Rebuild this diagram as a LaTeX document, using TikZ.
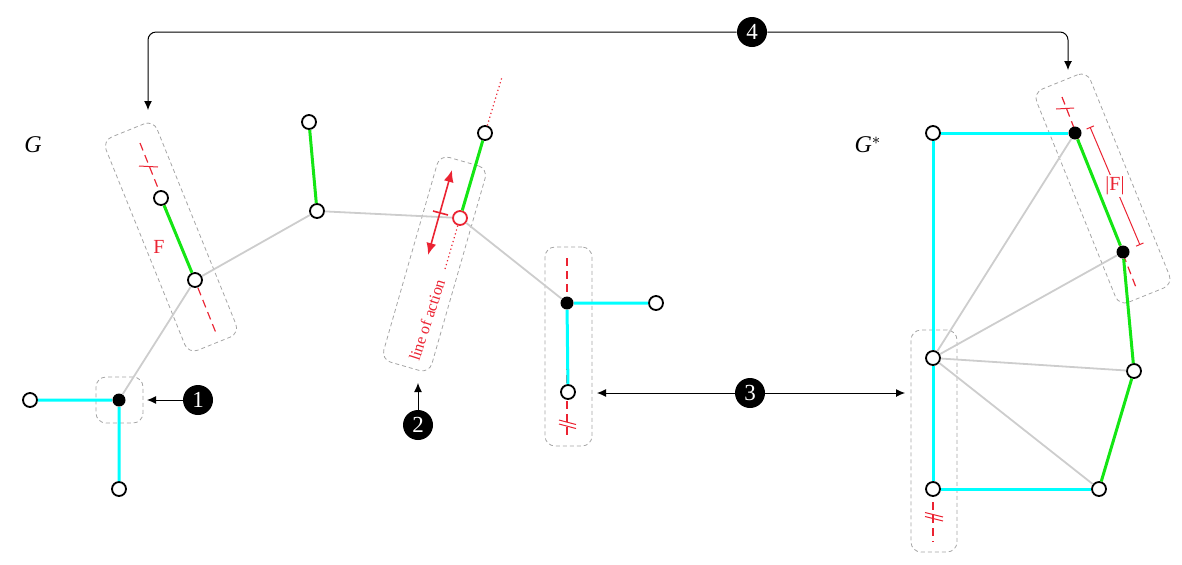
\documentclass[tikz,border=0pt]{standalone}
\usepackage{fontspec}
\setmainfont{Liberation Serif}
\usetikzlibrary{arrows.meta}
\definecolor{EdgeGreen}{RGB}{20,230,20}
\definecolor{EdgeCyan}{RGB}{0,255,255}
\definecolor{EdgeGray}{RGB}{205,205,205}
\definecolor{BoxGray}{RGB}{165,165,165}
\definecolor{ForceRed}{RGB}{235,35,50}

\begin{document}
\begin{tikzpicture}[x=0.5pt,y=-0.5pt,>={Latex[length=4.5pt,width=4pt]},
    vopen/.style={circle,draw=black,fill=white,line width=0.9pt,inner sep=0pt,minimum size=7pt},
    vfull/.style={circle,fill=black,inner sep=0pt,minimum size=6.5pt},
    vred/.style={vopen,draw=ForceRed},
    graybox/.style={draw=BoxGray,dash pattern=on 2pt off 1.5pt,rounded corners=5pt,inner sep=0pt,line width=0.4pt},
    greenedge/.style={EdgeGreen,line width=1.5pt},
    cyanedge/.style={EdgeCyan,line width=1.5pt},
    grayedge/.style={EdgeGray,line width=0.9pt},
    reddash/.style={ForceRed,line width=0.6pt,dash pattern=on 4pt off 2.5pt},
    numdot/.style={circle,fill=black,text=white,inner sep=0pt,minimum size=15pt,font=\fontsize{11.5}{11.5}\selectfont}]
  \useasboundingbox (0,0) rectangle (1182,564);

  % dashed groups
  \node[graybox,rotate=22,minimum width=27.5pt,minimum height=115pt] (boxF) at (171,237) {};
  \node[graybox,rotate=-16,minimum width=25pt,minimum height=106.5pt] (boxL) at (434.5,264) {};
  \node[graybox,minimum width=23.5pt,minimum height=23pt] (boxA) at (119.5,400) {};
  \node[graybox,minimum width=23.5pt,minimum height=99.5pt] (boxB) at (568.5,346.5) {};
  \node[graybox,rotate=22,minimum width=29pt,minimum height=115pt] (boxS) at (1103,188.5) {};
  \node[graybox,minimum width=23pt,minimum height=111pt] (boxT) at (934,441) {};

  % lines of action
  \coordinate (fa) at (140,143);  \coordinate (fb) at (216,333);
  \coordinate (ba) at (567,258);  \coordinate (bb) at (567,437);
  \coordinate (sa) at (1062,97);  \coordinate (sb) at (1137,290);
  \coordinate (ta) at (933,489);  \coordinate (tb) at (933,542);
  \draw[reddash] (fa) -- (fb);
  \draw[reddash] (ba) -- (bb);
  \draw[reddash] (sa) -- (sb);
  \draw[reddash] (ta) -- (tb);
  \draw[ForceRed,line width=0.5pt] (139,166) -- (158,167);
  \draw[ForceRed,line width=0.5pt] (1056,109) -- (1074,108);
  \draw[ForceRed,line width=0.5pt] (559,420) -- (576,424.5) (559,424) -- (576,428.5);
  \draw[ForceRed,line width=0.5pt] (925,512.5) -- (943,517) (925,516.5) -- (943,521);

  % G
  \node[vopen] (a1) at (161,198) {};
  \node[vopen] (a2) at (195,280) {};
  \node[vopen] (a3) at (317,211) {};
  \node[vopen] (a4) at (309,122) {};
  \node[vred]  (a5) at (460,218) {};
  \node[vopen] (a6) at (485,133) {};
  \node[vfull] (a7) at (567,303) {};
  \node[vopen] (a8) at (656,303) {};
  \node[vopen] (a9) at (568,392) {};
  \node[vfull] (b1) at (119,400) {};
  \node[vopen] (b2) at (30,400) {};
  \node[vopen] (b3) at (119,489) {};
  \draw[grayedge] (a2) -- (a3) (a3) -- (a5) (a5) -- (a7) (a2) -- (b1);
  \draw[greenedge] (a1) -- (a2) (a4) -- (a3) (a5) -- (a6);
  \draw[cyanedge] (a7) -- (a8) (a7) -- (a9) (b1) -- (b2) (b1) -- (b3);
  \node[font=\large\itshape] (lg) at (33,145) {G};
  \node[ForceRed] (lf) at (159,247) {F};

  % line of action
  \coordinate (la) at (444.8,269.8);
  \coordinate (lb) at (502,77);
  \draw[ForceRed,line width=0.6pt,dash pattern=on 0.6pt off 1.4pt] (a5) -- (la);
  \draw[ForceRed,line width=0.6pt,dash pattern=on 0.6pt off 1.4pt] (a6) -- (lb);
  \coordinate (pa) at (452,170);
  \coordinate (pb) at (428,255);
  \draw[ForceRed,line width=0.8pt,{Latex[length=6pt,width=5pt]}-{Latex[length=6pt,width=5pt]}] (pb) -- (pa);
  \draw[ForceRed,line width=0.8pt] (433,211) -- (448,215);
  \node[ForceRed,font=\footnotesize,rotate=72] (lo) at (427,320) {line of action};

  % G*
  \node[vopen] (c1) at (933,133) {};
  \node[vfull] (c2) at (1075,133) {};
  \node[vfull] (c3) at (1123,252) {};
  \node[vopen] (c4) at (1134,371) {};
  \node[vopen] (c5) at (1099,489) {};
  \node[vopen] (c6) at (933,489) {};
  \node[vopen] (c7) at (933,358) {};
  \draw[grayedge] (c7) -- (c2) (c7) -- (c3) (c7) -- (c4) (c7) -- (c5);
  \draw[greenedge] (c2) -- (c3) (c3) -- (c4) (c4) -- (c5);
  \draw[cyanedge] (c1) -- (c2) (c1) -- (c7) (c7) -- (c6) (c6) -- (c5);
  \node[font=\large] (ls) at (868,145) {\textit{G}$^{*}$};
  \coordinate (da) at (1090,127);
  \coordinate (db) at (1140,245);
  \draw[ForceRed,line width=0.5pt,{Bar[width=4pt]}-{Bar[width=4pt]}] (da) -- (db)
    node[midway,fill=white,inner sep=1pt] {|F|};

  % steps
  \node[numdot] (n1) at (198,400) {1};
  \node[numdot] (n2) at (418,425) {2};
  \node[numdot] (n3) at (750,393) {3};
  \node[numdot] (n4) at (752,32) {4};
  \coordinate (t1) at (147,400);
  \coordinate (t2) at (418,383);
  \coordinate (t3a) at (597,393);
  \coordinate (t3b) at (905,393);
  \coordinate (t4a) at (148,110);
  \coordinate (t4b) at (1068,70);
  \draw[->,line width=0.5pt] (n1) -- (t1);
  \draw[->,line width=0.5pt] (n2) -- (t2);
  \draw[->,line width=0.5pt] (n3) -- (t3a);
  \draw[->,line width=0.5pt] (n3) -- (t3b);
  \draw[->,line width=0.5pt,rounded corners=4pt] (n4) -| (t4a);
  \draw[->,line width=0.5pt,rounded corners=4pt] (n4) -| (t4b);
\end{tikzpicture}
\end{document}
